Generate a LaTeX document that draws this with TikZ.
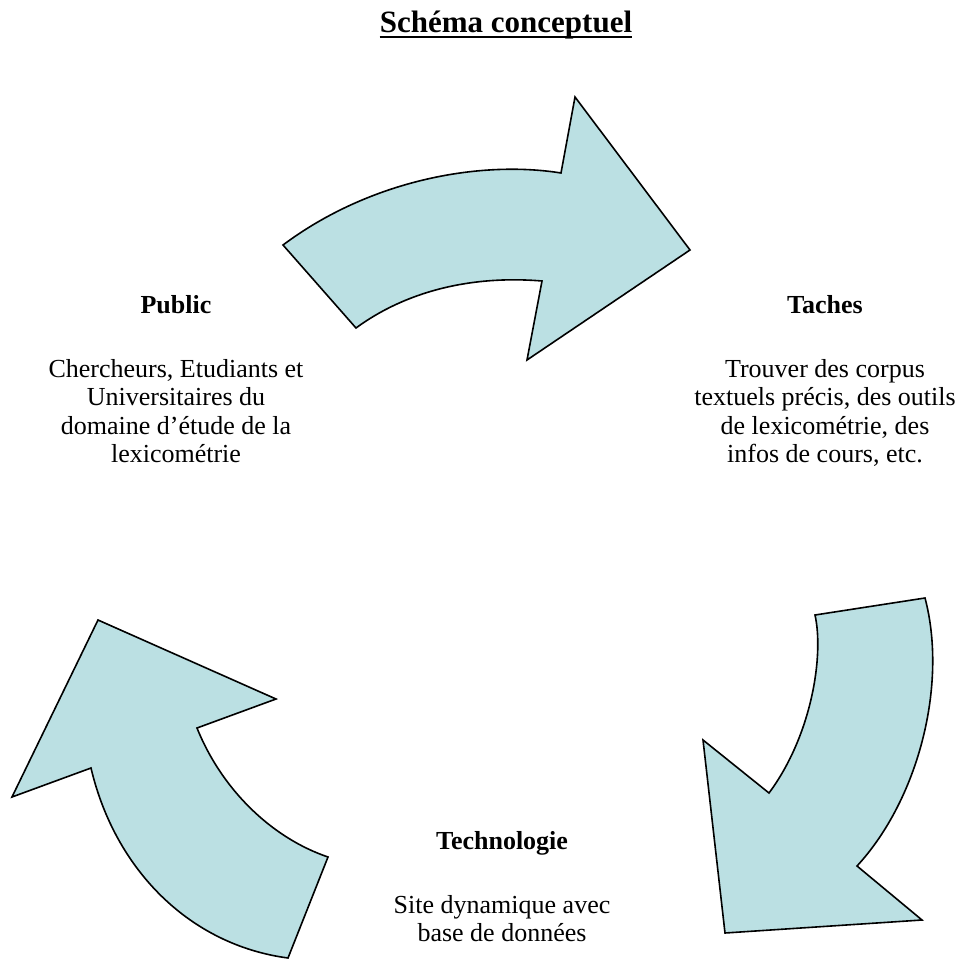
\documentclass[tikz,border=0pt]{standalone}
\usepackage{fontspec}
\setmainfont{Liberation Serif}
\usetikzlibrary{positioning}
\definecolor{arrowblue}{RGB}{187,224,227}
\tikzset{
	curvearrow/.style={draw=black, line width=1.6pt, fill=arrowblue, line join=miter},
	headtext/.style={font=\fontsize{26}{28.5}\selectfont\bfseries, inner sep=0pt, text height=18pt, text depth=6pt},
	bodytext/.style={font=\fontsize{26}{28.5}\selectfont, inner sep=0pt, align=center},
}
\begin{document}
\begin{tikzpicture}[x=1pt, y=-1pt, node distance=40pt]
	\useasboundingbox (0,0) rectangle (963,960);
	\node [font=\fontsize{31}{36}\selectfont\bfseries, inner sep=0pt, text depth=0pt, anchor=base] (title) at (506,33) {Schéma conceptuel};
	\draw [line width=2.5pt] ([yshift=-4pt]title.south west) -- ([yshift=-4pt]title.south east);
	
	% les trois fleches
	\draw [curvearrow] (283,245) -- (356,328) .. controls (405,292) and (470,275) .. (542,281) -- (527,360) -- (690,250) -- (575,97) -- (561,173) .. controls (480,160) and (370,180) .. (283,245) -- cycle;
	\draw [curvearrow] (925,598) -- (815,615) .. controls (824,655) and (812,735) .. (769,793) -- (703,740) -- (725,933) -- (922,920) -- (857,866) .. controls (918,800) and (948,685) .. (925,598) -- cycle;
	\draw [curvearrow] (288,958) -- (328,857) .. controls (272,838) and (222,790) .. (197,728) -- (276,699) -- (98,620) -- (12,797) -- (91,768) .. controls (115,870) and (190,945) .. (288,958) -- cycle;
	
	\node [headtext, anchor=base] (public) at (176,313) {Public};
	\node [bodytext, below=of public] (publicbody) {Chercheurs, Etudiants et\\Universitaires du\\domaine d’étude de la\\lexicométrie};
	\node [headtext, anchor=base] (taches) at (825,313) {Taches};
	\node [bodytext, below=of taches] (tachesbody) {Trouver des corpus\\textuels précis, des outils\\de lexicométrie, des\\infos de cours, etc.};
	\node [headtext, anchor=base] (techno) at (502,849) {Technologie};
	\node [bodytext, below=of techno] (technobody) {Site dynamique avec\\base de données};
\end{tikzpicture}
\end{document}
